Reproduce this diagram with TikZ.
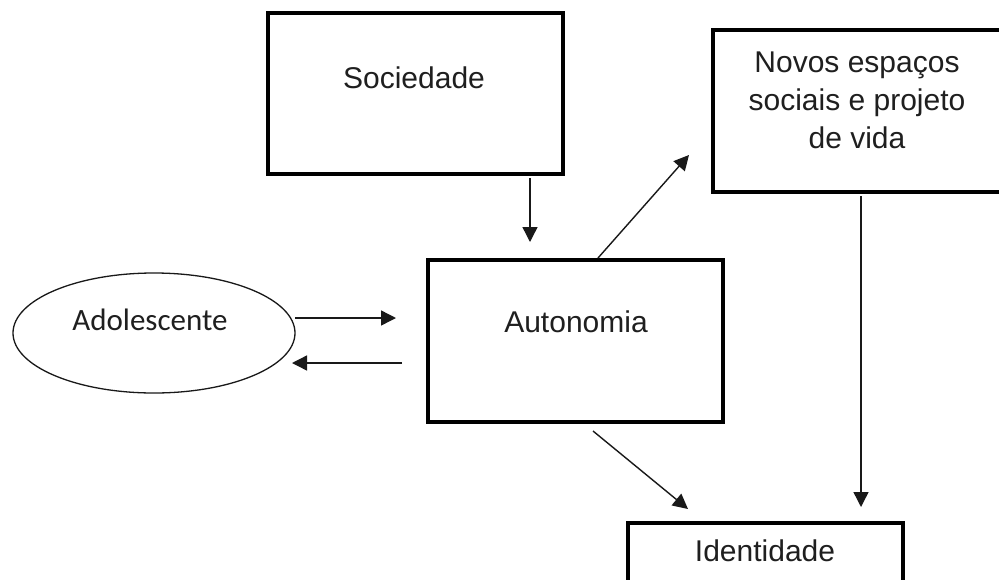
\documentclass[tikz,border=0pt]{standalone}
\usepackage{fontspec}
\setmainfont{Liberation Sans}
\newfontfamily\calibrilike{Carlito}
\usetikzlibrary{arrows.meta,shapes.geometric}

\begin{document}
\begin{tikzpicture}[x=1pt,y=-1pt,
  box/.style={draw=black,line width=4pt,rectangle,inner sep=0pt,fill=white},
  lbl/.style={font=\fontsize{30}{38}\selectfont,text=black!88,align=center,inner sep=0pt},
  arr/.style={draw=black!90,line width=1.4pt,-{Triangle[length=15pt,width=15pt]}}]

  % page frame
  \useasboundingbox[fill=white] (0,0) rectangle (999,579);

  % boxes
  \node[box,minimum width=295pt,minimum height=161pt] (soc) at (415.5,93.5) {};
  \node[lbl] (soctxt) at (414,78) {Sociedade};

  \node[box,minimum width=330pt,minimum height=162pt] (nov) at (878,111) {};
  \node[lbl] (novtxt) at (857,100) {Novos espaços\\sociais e projeto\\de vida};

  \node[box,minimum width=295pt,minimum height=162pt] (aut) at (575.5,341) {};
  \node[lbl] (auttxt) at (576,322) {Autonomia};

  \node[box,minimum width=275pt,minimum height=80pt] (ide) at (765.5,563) {};
  \node[lbl] (idetxt) at (765,551) {Identidade};

  \node[draw=black!90,line width=1.3pt,ellipse,minimum width=282pt,minimum height=120pt,inner sep=0pt] (ado) at (154,333) {};
  \node[lbl,font=\calibrilike\fontsize{31}{38}\selectfont] (adotxt) at (150,320) {Adolescente};

  % connector end points
  \coordinate (sx) at (530,0);
  \coordinate (nx) at (861,0);
  \coordinate (upS) at (598,258);
  \coordinate (upE) at (689,155);
  \coordinate (dnS) at (593,431);
  \coordinate (dnE) at (688,509);
  \coordinate (inS) at (295,318);
  \coordinate (inE) at (396,318);
  \coordinate (outS) at (402,363);
  \coordinate (outE) at (292,363);

  % connectors
  \draw[arr,shorten <=2pt,shorten >=16pt] (soc.south -| sx) -- (aut.north -| sx);
  \draw[arr] (upS) -- (upE);
  \draw[arr] (dnS) -- (dnE);
  \draw[arr,shorten <=2pt,shorten >=14pt] (nov.south -| nx) -- (ide.north -| nx);
  \draw[arr] (inS) -- (inE);
  \draw[arr] (outS) -- (outE);
\end{tikzpicture}
\end{document}
